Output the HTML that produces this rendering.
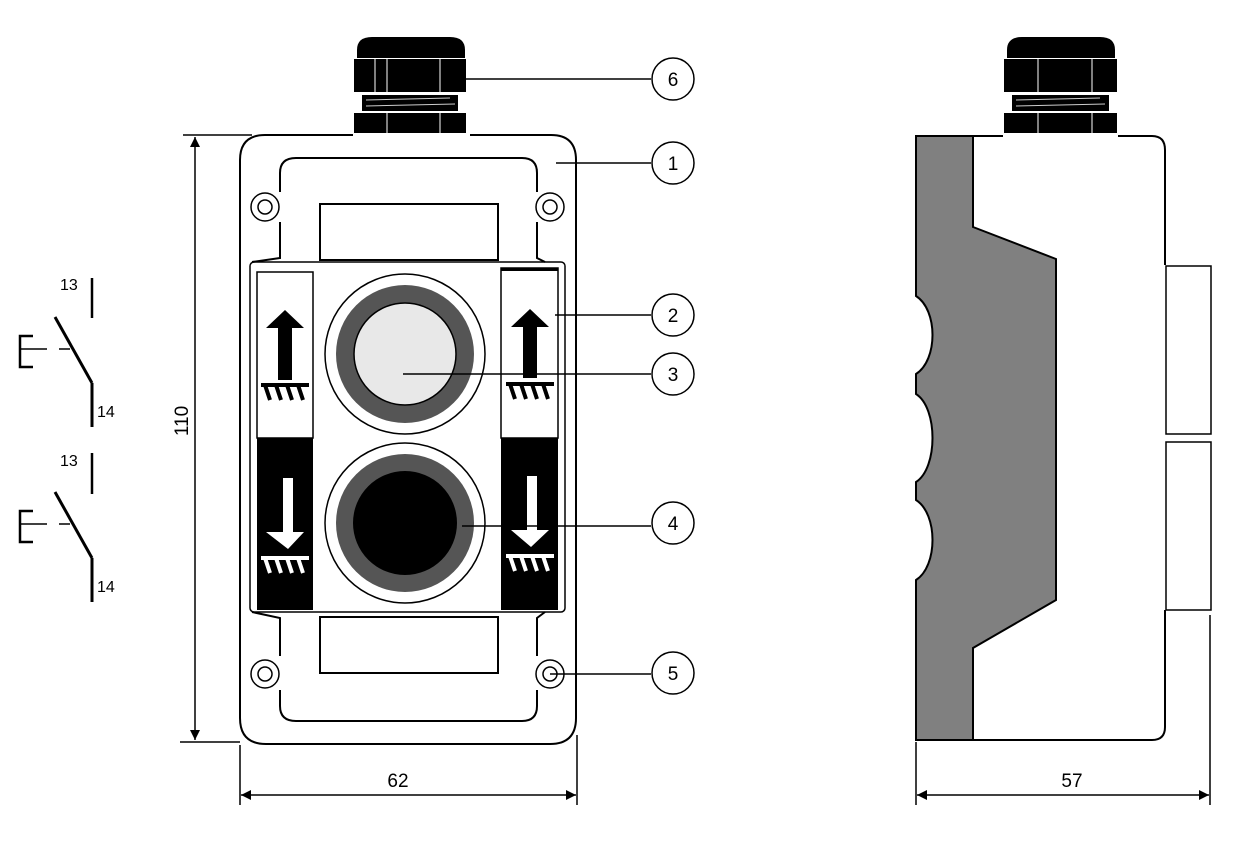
<!DOCTYPE html>
<html><head><meta charset="utf-8"><style>
html,body{margin:0;padding:0;background:#fff;}
svg{display:block;font-family:"Liberation Sans",sans-serif;}
</style></head><body>
<svg width="1247" height="841" viewBox="0 0 1247 841" xmlns="http://www.w3.org/2000/svg">
<defs>
<marker id="ar" viewBox="0 0 10 10" refX="10" refY="5" markerWidth="16" markerHeight="10" markerUnits="userSpaceOnUse" orient="auto-start-reverse"><path d="M0,0 L10,5 L0,10 z" fill="#000"/></marker>
</defs>
<g fill="none" stroke="#000" stroke-width="2">
<line x1="92" y1="278" x2="92" y2="318" stroke-width="2.5"/>
<line x1="55" y1="317" x2="92" y2="383" stroke-width="3"/>
<line x1="92" y1="383" x2="92" y2="427" stroke-width="3"/>
<path d="M33,336 H20 V367 H33" stroke-width="2.5"/>
<line x1="20" y1="349" x2="47" y2="349" stroke-width="1.5"/>
<line x1="59" y1="349" x2="70" y2="349" stroke-width="1.5"/>
<line x1="92" y1="453" x2="92" y2="494" stroke-width="2.5"/>
<line x1="55" y1="492" x2="92" y2="558" stroke-width="3"/>
<line x1="92" y1="558" x2="92" y2="602" stroke-width="3"/>
<path d="M33,511 H20 V542 H33" stroke-width="2.5"/>
<line x1="20" y1="524" x2="47" y2="524" stroke-width="1.5"/>
<line x1="59" y1="524" x2="70" y2="524" stroke-width="1.5"/>
<line x1="183" y1="135" x2="252" y2="135" stroke-width="1.5"/>
<line x1="180" y1="742" x2="240" y2="742" stroke-width="1.5"/>
<line x1="195" y1="137" x2="195" y2="740" stroke-width="1.5" marker-start="url(#ar)" marker-end="url(#ar)"/>
<line x1="240" y1="745" x2="240" y2="805" stroke-width="1.5"/>
<line x1="577" y1="735" x2="577" y2="805" stroke-width="1.5"/>
<line x1="241" y1="795" x2="576" y2="795" stroke-width="1.5" marker-start="url(#ar)" marker-end="url(#ar)"/>
<path d="M353,135 H265 Q240,135 240,160 V718 Q240,744 266,744 H550 Q576,744 576,718 V160 Q576,135 551,135 H470"/>
<path d="M296,158 H522 Q537,158 537,173 V192 M537,222 V258 L545,262 M545,612 L537,618 V656 M537,690 V706 Q537,721 522,721 H296 Q280,721 280,706 V690 M280,656 V618 L252,612 M252,262 L280,258 V222 M280,192 V173 Q280,158 296,158"/>
<rect x="250" y="262" width="315" height="350" rx="4" stroke-width="1.5"/>
<circle cx="265" cy="207" r="14" stroke-width="1.5"/><circle cx="265" cy="207" r="7" stroke-width="1.5"/>
<circle cx="550" cy="207" r="14" stroke-width="1.5"/><circle cx="550" cy="207" r="7" stroke-width="1.5"/>
<circle cx="265" cy="674" r="14" stroke-width="1.5"/><circle cx="265" cy="674" r="7" stroke-width="1.5"/>
<circle cx="550" cy="674" r="14" stroke-width="1.5"/><circle cx="550" cy="674" r="7" stroke-width="1.5"/>
<rect x="320" y="204" width="178" height="56"/>
<rect x="320" y="617" width="178" height="56"/>
</g>
<rect x="257" y="272" width="56" height="166" fill="#fff" stroke="#000" stroke-width="1.5"/>
<rect x="257" y="438" width="56" height="172" fill="#000"/>
<rect x="501" y="268" width="57" height="170" fill="#fff" stroke="#000" stroke-width="1.5"/>
<rect x="501" y="268" width="57" height="3" fill="#000"/>
<rect x="501" y="438" width="57" height="172" fill="#000"/>
<g fill="#000">
<path d="M278,328 H266 L285,310 L304,328 H292 V380 H278 z"/>
<path d="M523,327 H511 L530,309 L549,327 H537 V378 H523 z"/>
</g>
<g stroke="#000" stroke-width="4" fill="none">
<path d="M261,385 H309 M265,385 L270,400 M276,385 L281,400 M287,385 L292,400 M298,385 L303,400"/>
<path d="M506,384 H554 M510,384 L515,399 M521,384 L526,399 M532,384 L537,399 M543,384 L548,399"/>
</g>
<g fill="#fff">
<path d="M283,478 H293 V532 H304 L288,549 L266,532 H283 z"/>
<path d="M527,476 H537 V530 H549 L531,547 L511,530 H527 z"/>
</g>
<g stroke="#fff" stroke-width="4" fill="none">
<path d="M261,558 H309 M265,558 L270,573 M276,558 L281,573 M287,558 L292,573 M298,558 L303,573"/>
<path d="M506,556 H554 M510,556 L515,571 M521,556 L526,571 M532,556 L537,571 M543,556 L548,571"/>
</g>
<circle cx="405" cy="354" r="80" fill="#fff" stroke="#000" stroke-width="1.5"/>
<circle cx="405" cy="354" r="69" fill="#555"/>
<circle cx="405" cy="354" r="51" fill="#e8e8e8" stroke="#000" stroke-width="1.5"/>
<circle cx="405" cy="523" r="80" fill="#fff" stroke="#000" stroke-width="1.5"/>
<circle cx="405" cy="523" r="69" fill="#555"/>
<circle cx="405" cy="523" r="52" fill="#000"/>
<g>
<path d="M357,58 V50 Q357,37 372,37 H450 Q465,37 465,50 V58 z" fill="#000"/>
<rect x="354" y="59" width="112" height="33" fill="#000"/>
<rect x="362" y="95" width="96" height="16" fill="#000"/>
<rect x="354" y="113" width="112" height="20" fill="#000"/>
<g stroke="#aaa" stroke-width="1.5"><line x1="387" y1="59" x2="387" y2="92"/><line x1="440" y1="59" x2="440" y2="92"/><line x1="387" y1="113" x2="387" y2="133"/><line x1="440" y1="113" x2="440" y2="133"/><line x1="375" y1="59" x2="375" y2="92"/></g>
<g stroke="#ccc" stroke-width="1"><line x1="366" y1="100" x2="450" y2="98"/><line x1="366" y1="106" x2="455" y2="104"/></g>
</g>
<g>
<path d="M1007,58 V50 Q1007,37 1022,37 H1100 Q1115,37 1115,50 V58 z" fill="#000"/>
<rect x="1004" y="59" width="113" height="33" fill="#000"/>
<rect x="1012" y="95" width="97" height="16" fill="#000"/>
<rect x="1004" y="113" width="113" height="20" fill="#000"/>
<g stroke="#aaa" stroke-width="1.5"><line x1="1038" y1="59" x2="1038" y2="92"/><line x1="1092" y1="59" x2="1092" y2="92"/><line x1="1038" y1="113" x2="1038" y2="133"/><line x1="1092" y1="113" x2="1092" y2="133"/></g>
<g stroke="#ccc" stroke-width="1"><line x1="1016" y1="100" x2="1100" y2="98"/><line x1="1016" y1="106" x2="1105" y2="104"/></g>
</g>
<path d="M916,136 H973 V227 L1056,259 V600 L973,648 V740 H916 V580 C938,566 938,514 916,500 V482 C938,468 938,408 916,394 V374 C938,360 938,310 916,296 z" fill="#808080" stroke="#000" stroke-width="2"/>
<g fill="none" stroke="#000" stroke-width="2">
<path d="M973,136 H1003 M1118,136 H1152 Q1165,136 1165,150 V265"/>
<path d="M973,740 H1152 Q1165,740 1165,727 V610"/>
<rect x="1166" y="266" width="45" height="168" stroke-width="1.5"/>
<rect x="1166" y="442" width="45" height="168" stroke-width="1.5"/>
<line x1="916" y1="742" x2="916" y2="805" stroke-width="1.5"/>
<line x1="1210" y1="615" x2="1210" y2="805" stroke-width="1.5"/>
<line x1="917" y1="795" x2="1209" y2="795" stroke-width="1.5" marker-start="url(#ar)" marker-end="url(#ar)"/>
</g>
<g fill="none" stroke="#000" stroke-width="1.5">
<line x1="466" y1="79" x2="651" y2="79"/>
<line x1="556" y1="163" x2="651" y2="163"/>
<line x1="555" y1="315" x2="651" y2="315"/>
<line x1="403" y1="374" x2="651" y2="374"/>
<line x1="462" y1="526" x2="651" y2="526"/>
<line x1="550" y1="674" x2="651" y2="674"/>
<circle cx="673" cy="79" r="21"/><circle cx="673" cy="163" r="21"/>
<circle cx="673" cy="315" r="21"/><circle cx="673" cy="374" r="21"/>
<circle cx="673" cy="523" r="21"/><circle cx="673" cy="673" r="21"/>
</g>
<g font-size="19" text-anchor="middle" fill="#000">
<text x="673" y="86">6</text><text x="673" y="170">1</text>
<text x="673" y="322">2</text><text x="673" y="381">3</text>
<text x="673" y="530">4</text><text x="673" y="680">5</text>
<text x="398" y="787">62</text>
<text x="1072" y="787">57</text>
<text transform="translate(188,421) rotate(-90)">110</text>
</g>
<g font-size="16" fill="#000">
<text x="60" y="290">13</text><text x="97" y="417">14</text>
<text x="60" y="466">13</text><text x="97" y="592">14</text>
</g>
</svg>
</body></html>
